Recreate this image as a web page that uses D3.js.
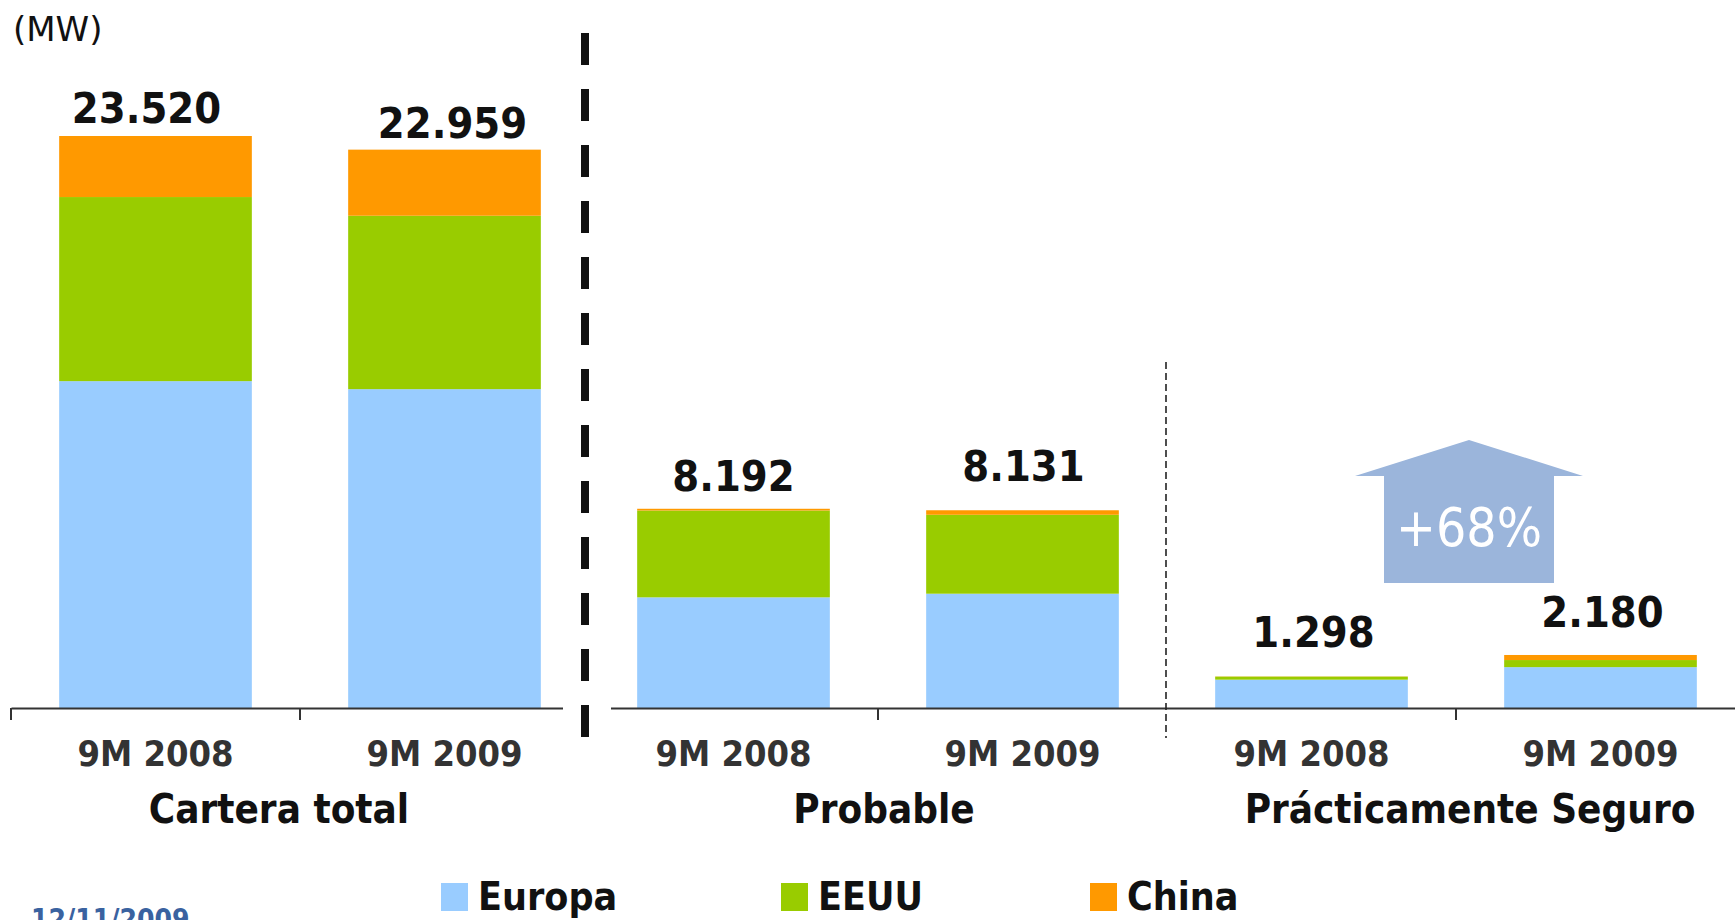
<!DOCTYPE html>
<html>
<head>
<meta charset="utf-8">
<script src="https://cdn.jsdelivr.net/npm/d3@7"></script>
<style>
  html, body { margin: 0; padding: 0; background: #fff; }
  svg { display: block; }
  .cond { font-family: 'DejaVu Sans Condensed', 'DejaVu Sans', sans-serif; font-stretch: condensed; }
</style>
</head>
<body>
<svg id="chart" width="1735" height="920"></svg>
<script>
// ---- data ----
const categories = ["9M 2008", "9M 2009", "9M 2008", "9M 2009", "9M 2008", "9M 2009"];
const groups = ["Cartera total", "Probable", "Prácticamente Seguro"];
const seriesNames = ["Europa", "EEUU", "China"];
const totals = [23520, 22959, 8192, 8131, 1298, 2180];
const europa = [13440, 13111, 4550, 4700, 1165, 1680];
const eeuu   = [7570, 7130, 3570, 3245, 125, 292];
const china  = [2510, 2718, 72, 186, 8, 208];
const growthLabel = "+68%";
const unitLabel = "(MW)";
const dateLabel = "12/11/2009";

// ---- layout / style config ----
const colors = { Europa: "#99CCFF", EEUU: "#99CC00", China: "#FF9900" };
const labelLift = [13, 12, 18, 29, 29, 28];
const labelShift = [-9, 8, 0, 1, 2, 2];
const groupShift = [-21, 6, 14];
const W = 1735, H = 920;
const baseY = 708, topY = 136;

const svg = d3.select("#chart");
svg.append("rect").attr("width", W).attr("height", H).attr("fill", "#fff");

const rows = categories.map((c, i) => ({ id: i, cat: c, Europa: europa[i], EEUU: eeuu[i], China: china[i], total: totals[i] }));

const x = d3.scaleBand().domain(rows.map(d => d.id)).range([11, 1745])
  .paddingInner(1 / 3).paddingOuter(1 / 6);
const y = d3.scaleLinear().domain([0, d3.max(totals)]).range([baseY, topY]);
const gapHalf = (x.step() - x.bandwidth()) / 2;
const boundary = i => x(i) - gapHalf;

const stack = d3.stack().keys(seriesNames);
const stacked = stack(rows);

// bars
svg.append("g").selectAll("g").data(stacked).join("g")
  .attr("fill", s => colors[s.key])
  .selectAll("rect").data(s => s).join("rect")
  .attr("x", d => x(d.data.id))
  .attr("width", x.bandwidth())
  .attr("y", d => y(d[1]))
  .attr("height", d => y(d[0]) - y(d[1]));

// axis
const axis = d3.axisBottom(x).tickSize(0).tickSizeOuter(0).tickPadding(0)
  .tickFormat(i => categories[i]);
const ax = svg.append("g").attr("transform", `translate(0,${baseY})`).call(axis);
ax.select(".domain").attr("stroke", "#333").attr("stroke-width", 2);
ax.selectAll(".tick text")
  .attr("class", "cond")
  .attr("y", 58).attr("dy", 0)
  .attr("font-size", 36).attr("font-weight", "bold")
  .attr("fill", "#333")
  .style("font-family", "'DejaVu Sans Condensed','DejaVu Sans',sans-serif");

// boundary ticks (within groups + left end)
[0, 1, 3, 5].forEach(i => {
  svg.append("line")
    .attr("x1", boundary(i)).attr("x2", boundary(i))
    .attr("y1", baseY).attr("y2", baseY + 12)
    .attr("stroke", "#333").attr("stroke-width", 2);
});

// thick dashed separator
const bx2 = boundary(2) - 4;
svg.append("rect").attr("x", bx2 - 22).attr("y", baseY - 4).attr("width", 48).attr("height", 8).attr("fill", "#fff");
svg.append("line")
  .attr("x1", bx2).attr("x2", bx2).attr("y1", 33).attr("y2", 738)
  .attr("stroke", "#111").attr("stroke-width", 8).attr("stroke-dasharray", "32 24");

// thin dashed separator
const bx4 = boundary(4) - 1;
svg.append("line")
  .attr("x1", bx4).attr("x2", bx4).attr("y1", 362).attr("y2", 738)
  .attr("stroke", "#222").attr("stroke-width", 1.6).attr("stroke-dasharray", "7 4");

// value labels
const fmt = d3.formatLocale({ thousands: ".", grouping: [3], decimal: ",", currency: ["", ""] }).format(",d");
svg.append("g").selectAll("text").data(rows).join("text")
  .attr("class", "cond")
  .attr("x", d => x(d.id) + x.bandwidth() / 2 + labelShift[d.id])
  .attr("y", d => y(d.total) - labelLift[d.id])
  .attr("text-anchor", "middle")
  .attr("font-size", 43).attr("font-weight", "bold").attr("fill", "#111")
  .text(d => fmt(d.total));

// group labels
svg.append("g").selectAll("text").data(groups).join("text")
  .attr("class", "cond")
  .attr("x", (g, gi) => (x(gi * 2) + x(gi * 2 + 1) + x.bandwidth()) / 2 + groupShift[gi])
  .attr("y", 823)
  .attr("text-anchor", "middle")
  .attr("font-size", 40).attr("font-weight", "bold").attr("fill", "#111")
  .text(g => g);

// growth arrow
const cx = (x(4) + x(5) + x.bandwidth()) / 2 + 13;
const tipY = 440, wingY = 476, botY = 583, wing = 114, body = 85;
svg.append("path")
  .attr("d", `M${cx},${tipY} L${cx + wing},${wingY} L${cx + body},${wingY} L${cx + body},${botY} L${cx - body},${botY} L${cx - body},${wingY} L${cx - wing},${wingY} Z`)
  .attr("fill", "#9BB5DB");
svg.append("text")
  .attr("class", "cond")
  .attr("x", cx).attr("y", 546)
  .attr("text-anchor", "middle")
  .attr("font-size", 53).attr("fill", "#fff")
  .text(growthLabel);

// unit label
svg.append("text")
  .attr("x", 13).attr("y", 41)
  .attr("font-family", "'DejaVu Sans', sans-serif")
  .attr("font-size", 34).attr("fill", "#111")
  .text(unitLabel);

// legend
const legendX = [441, 781, 1090];
const lg = svg.append("g").selectAll("g").data(seriesNames).join("g")
  .attr("transform", (d, i) => `translate(${legendX[i]},883)`);
lg.append("rect").attr("width", 27).attr("height", 28).attr("fill", d => colors[d]);
lg.append("text")
  .attr("class", "cond")
  .attr("x", 37).attr("y", 27)
  .attr("font-size", 39).attr("font-weight", "bold").attr("fill", "#111")
  .text(d => d);

// date
svg.append("text")
  .attr("class", "cond")
  .attr("x", 31).attr("y", 929)
  .attr("font-size", 28).attr("font-weight", "bold").attr("fill", "#3A62A0")
  .text(dateLabel);
</script>
</body>
</html>
